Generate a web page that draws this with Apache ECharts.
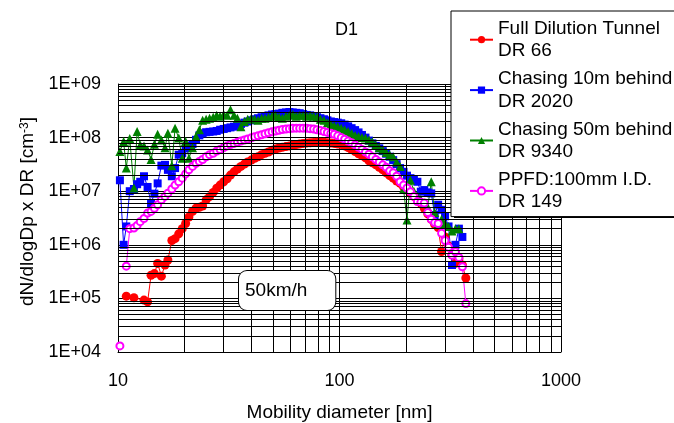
<!DOCTYPE html>
<html><head><meta charset="utf-8">
<script src="https://cdn.jsdelivr.net/npm/echarts@6/dist/echarts.min.js"></script>
<style>html,body{margin:0;padding:0;background:#fff}#c{width:674px;height:423px}</style>
</head><body><div id="c"></div>
<script>
// Mobility diameter channels [nm]
const diameters = [
  10.2, 10.6, 10.9, 11.3, 11.8, 12.2, 12.6, 13.1, 13.6, 14.1,
  14.6, 15.1, 15.7, 16.3, 16.8, 17.5, 18.1, 18.8, 19.5, 20.2,
  20.9, 21.7, 22.5, 23.3, 24.1, 25.0, 25.9, 26.9, 27.9, 28.9,
  30.0, 31.1, 32.2, 33.4, 34.6, 35.9, 37.2, 38.5, 40.0, 41.4,
  42.9, 44.5, 46.1, 47.8, 49.6, 51.4, 53.3, 55.2, 57.3, 59.4,
  61.5, 63.8, 66.1, 68.5, 71.0, 73.7, 76.4, 79.1, 82.0, 85.1,
  88.2, 91.4, 94.7, 98.2, 101.8, 105.5, 109.4, 113.4, 117.6, 121.9,
  126.3, 131.0, 135.8, 140.7, 145.9, 151.2, 156.8, 162.5, 168.5, 174.7,
  181.1, 187.7, 194.6, 201.7, 209.1, 216.7, 224.7, 232.9, 241.4, 250.3,
  259.5, 269.0, 278.8, 289.0, 299.6, 310.6, 322.0, 333.8, 346.0, 358.7,
  371.8
];
const fullDilution = [
  null, null, 1.1e5, null, 1.03e5, null, null, 9.3e4, 8.6e4, 2.7e5,
  2.9e5, 4.5e5, 2.6e5, 4.2e5, 5.2e5, 1.2e6, 1.3e6, 1.6e6, 2.0e6, 2.5e6,
  3.3e6, 4.2e6, 4.8e6, 5.0e6, 5.3e6, 6.9e6, 7.9e6, 9.5e6, 1.14e7, 1.3e7,
  1.5e7, 1.7e7, 2.0e7, 2.3e7, 2.6e7, 2.9e7, 3.2e7, 3.5e7, 3.8e7, 4.1e7,
  4.4e7, 4.8e7, 5.1e7, 5.4e7, 5.8e7, 6.1e7, 6.4e7, 6.6e7, 6.8e7, 7.0e7,
  7.2e7, 7.4e7, 7.6e7, 7.8e7, 7.9e7, 8.0e7, 8.1e7, 8.2e7, 8.2e7, 8.2e7,
  8.0e7, 7.9e7, 7.8e7, 7.6e7, 7.4e7, 7.0e7, 6.5e7, 6.0e7, 5.5e7, 5.0e7,
  4.6e7, 4.2e7, 3.7e7, 3.4e7, 3.1e7, 2.8e7, 2.5e7, 2.2e7, 1.95e7, 1.75e7,
  1.55e7, 1.4e7, 1.2e7, 1.05e7, 9.2e6, 8.0e6, 7.0e6, 6.0e6, 4.8e6, 3.8e6,
  3.0e6, 2.4e6, 2.1e6, 7.5e5, 1.4e6, 9.5e5, 6.5e5, 4.5e5, 5.5e5, 4.2e5,
  2.4e5
];
const chasing10m = [
  1.6e7, 1.0e6, 2.2e6, 1.0e7, 1.1e7, 1.35e7, 1.5e7, 1.9e7, 1.2e7, 6.0e6,
  9.0e6, 1.4e7, 3.0e7, 3.1e7, 2.5e7, 1.9e7, 2.7e7, 4.8e7, 5.1e7, 6.3e7,
  7.0e7, 7.6e7, 9.1e7, 1.1e8, 1.2e8, 1.26e8, 1.28e8, 1.3e8, 1.33e8, 1.4e8,
  1.45e8, 1.5e8, 1.55e8, 1.6e8, 1.7e8, 1.8e8, 1.9e8, 2.0e8, 2.1e8, 2.2e8,
  2.3e8, 2.4e8, 2.5e8, 2.6e8, 2.7e8, 2.75e8, 2.8e8, 2.9e8, 2.95e8, 3.0e8,
  2.95e8, 2.9e8, 2.85e8, 2.75e8, 2.65e8, 2.6e8, 2.5e8, 2.4e8, 2.3e8, 2.2e8,
  2.1e8, 2.0e8, 1.95e8, 1.9e8, 1.85e8, 1.75e8, 1.62e8, 1.5e8, 1.38e8, 1.25e8,
  1.12e8, 1.0e8, 8.8e7, 7.8e7, 7.0e7, 6.3e7, 5.6e7, 5.0e7, 4.4e7, 3.8e7,
  3.2e7, 2.7e7, 2.3e7, 1.95e7, 1.75e7, 1.65e7, 1.5e7, 9.8e6, 1.05e7, 9.5e6,
  9.1e6, 3.6e6, 5.6e6, 4.5e6, 3.4e6, 2.2e6, 4.2e5, 1.0e6, 2.0e6, 1.4e6,
  null
];
const chasing50m = [
  5.5e7, 8.5e7, 2.7e7, 9.6e7, 1.15e7, 1.3e8, 7.3e7, 7.0e7, 5.9e7, 3.9e7,
  7.5e7, 1.15e8, 9.0e7, 6.5e7, 1.2e8, 3.0e7, 1.5e8, 9.8e7, 4.1e7, 8.5e7,
  4.1e7, 6.5e7, 1.05e8, 1.4e8, 2.1e8, 2.2e8, 2.3e8, 2.4e8, 2.6e8, 2.5e8,
  2.7e8, 2.6e8, 3.3e8, 2.6e8, 2.3e8, 1.6e8, 2.0e8, 2.2e8, 2.3e8, 2.2e8,
  2.1e8, 2.3e8, 2.3e8, 2.4e8, 2.5e8, 2.6e8, 2.4e8, 2.3e8, 2.5e8, 2.6e8,
  2.7e8, 2.5e8, 2.6e8, 2.6e8, 2.5e8, 2.6e8, 2.5e8, 2.4e8, 2.2e8, 2.1e8,
  1.9e8, 1.75e8, 1.65e8, 1.6e8, 1.5e8, 1.4e8, 1.3e8, 1.2e8, 1.1e8, 1.05e8,
  1.0e8, 9.8e7, 9.0e7, 8.4e7, 7.3e7, 6.5e7, 5.9e7, 5.3e7, 4.8e7, 4.4e7,
  3.5e7, 2.9e7, 1.1e7, 2.9e6, 1.6e7, 1.0e7, 8.0e6, 7.0e6, 6.0e6, 5.0e6,
  1.5e7, 4.0e6, 2.5e6, 3.0e6, 2.5e6, 2.2e6, 1.8e6, 2.0e6, 2.0e6, null,
  null
];
const ppfd = [
  1.3e4, null, 4.0e5, 2.0e6, 2.05e6, 2.3e6, 2.7e6, 3.1e6, 3.9e6, 4.2e6,
  4.8e6, 5.6e6, 6.9e6, 8.0e6, 9.2e6, 1.1e7, 1.3e7, 1.5e7, 1.75e7, 2.1e7,
  2.5e7, 2.9e7, 3.3e7, 3.6e7, 3.9e7, 4.4e7, 4.8e7, 5.1e7, 5.6e7, 6.0e7,
  6.5e7, 7.0e7, 7.4e7, 7.8e7, 8.2e7, 8.6e7, 9.0e7, 9.4e7, 9.9e7, 1.04e8,
  1.08e8, 1.13e8, 1.18e8, 1.23e8, 1.28e8, 1.33e8, 1.37e8, 1.41e8, 1.44e8, 1.47e8,
  1.49e8, 1.5e8, 1.5e8, 1.5e8, 1.49e8, 1.47e8, 1.44e8, 1.4e8, 1.35e8, 1.3e8,
  1.25e8, 1.2e8, 1.15e8, 1.08e8, 1.0e8, 9.3e7, 8.6e7, 8.0e7, 7.3e7, 6.6e7,
  6.0e7, 5.4e7, 4.9e7, 4.4e7, 3.9e7, 3.5e7, 3.1e7, 2.8e7, 2.4e7, 2.2e7,
  1.9e7, 1.5e7, 1.3e7, 1.15e7, 9.8e6, 8.0e6, 6.4e6, 6.2e6, 6.0e6, 4.0e6,
  3.0e6, 2.6e6, 2.5e6, 1.64e6, 1.2e6, 9.0e5, 6.4e5, 7.4e5, 5.8e5, 3.9e5,
  8.0e4
];
const seriesNames = [
  'Full Dilution Tunnel\nDR 66',
  'Chasing 10m behind\nDR 2020',
  'Chasing 50m behind\nDR 9340',
  'PPFD:100mm I.D.\nDR 149'
];
const xMinorGrid = [20, 30, 40, 50, 60, 70, 80, 90, 200, 300, 400, 500, 600, 700, 800, 900];
const yMinorGrid = [
  2e4, 3e4, 4e4, 5e4, 6e4, 7e4, 8e4, 9e4,
  2e5, 3e5, 4e5, 5e5, 6e5, 7e5, 8e5, 9e5,
  2e6, 3e6, 4e6, 5e6, 6e6, 7e6, 8e6, 9e6,
  2e7, 3e7, 4e7, 5e7, 6e7, 7e7, 8e7, 9e7,
  2e8, 3e8, 4e8, 5e8, 6e8, 7e8, 8e8, 9e8
];
const titleText = 'D1';
const noteText = '50km/h';

const FONT = 'Liberation Sans, Arial, sans-serif';
const pairs = vals => diameters.map((d, i) => [d, vals[i]]);

const chart = echarts.init(document.getElementById('c'), null, {renderer: 'canvas'});
const base = {type: 'line', animation: false, lineStyle: {width: 1}, emphasis: {disabled: true}, z: 2};
chart.setOption({
  animation: false,
  backgroundColor: '#fff',
  textStyle: {fontFamily: FONT, color: '#000'},
  title: {text: titleText, left: 330, top: 16, textStyle: {fontSize: 18, fontWeight: 'normal', color: '#000', fontFamily: FONT}},
  grid: {left: 118, right: 113, top: 84, bottom: 71, containLabel: false, outerBoundsMode: 'none'},
  xAxis: {
    type: 'log', logBase: 10, min: 10, max: 1000,
    axisLine: {show: true, lineStyle: {color: '#000', width: 1}},
    axisTick: {show: false},
    axisLabel: {fontSize: 18, color: '#000', margin: 20, fontFamily: FONT, formatter: v => String(Math.round(v))},
    splitLine: {show: true, lineStyle: {color: '#000', width: 1}},
    name: 'Mobility diameter [nm]', nameLocation: 'middle', nameGap: 51,
    nameTextStyle: {fontSize: 19, color: '#000', fontFamily: FONT}
  },
  yAxis: {
    type: 'log', logBase: 10, min: 1e4, max: 1e9,
    axisLine: {show: true, lineStyle: {color: '#000', width: 1}},
    axisTick: {show: false},
    axisLabel: {fontSize: 18, color: '#000', margin: 17, fontFamily: FONT, padding: [6, 0, 0, 0],
      formatter: v => '1E+' + String(Math.round(Math.log10(v))).padStart(2, '0')},
    splitLine: {show: true, lineStyle: {color: '#000', width: 1}},
    name: '{a|dN/dlogDp x DR [cm}{s|-3}{a|]}', nameLocation: 'middle', nameRotate: 90, nameGap: 78,
    nameTextStyle: {fontSize: 19, color: '#000', fontFamily: FONT, padding: [0, 0, 0, 13],
      rich: {a: {fontSize: 19, fontFamily: FONT, color: '#000'}, s: {fontSize: 12, fontFamily: FONT, color: '#000', verticalAlign: 'top'}}}
  },
  legend: {
    data: seriesNames, orient: 'vertical', left: 451, top: 11, z: 50, zlevel: 0,
    backgroundColor: '#fff', borderColor: '#000', borderWidth: 1, borderRadius: 0,
    padding: [8, 20, 5, 18], itemWidth: 23, itemHeight: 9, itemGap: 9,
    selectedMode: false,
    textStyle: {fontSize: 19, lineHeight: 22.4, color: '#000', fontFamily: FONT, padding: [0, 0, -22.4, 0]}
  },
  graphic: [
    {type: 'rect', z: 45, silent: true, shape: {x: 454, y: 14, width: 260, height: 204}, style: {fill: '#000'}},
    {type: 'text', left: 238, top: 270, z: 100,
      style: {text: noteText, font: '19px ' + FONT, fill: '#000', backgroundColor: '#fff',
        borderColor: '#000', borderWidth: 1, borderRadius: 8, padding: [9, 28, 9, 6], lineHeight: 21}}
  ],
  series: [
    {type: 'line', name: 'minorGrid', data: [], silent: true, animation: false, z: 1,
      markLine: {silent: true, animation: false, symbol: ['none', 'none'], label: {show: false},
        lineStyle: {color: '#000', width: 1, type: 'solid'}, emphasis: {disabled: true},
        data: xMinorGrid.map(v => ({xAxis: v})).concat(yMinorGrid.map(v => ({yAxis: v})))}},
    Object.assign({}, base, {name: seriesNames[0], data: pairs(fullDilution), connectNulls: true,
      symbol: 'circle', symbolSize: 9, itemStyle: {color: '#FF0000'}, lineStyle: {width: 1, color: '#FF0000'}}),
    Object.assign({}, base, {name: seriesNames[1], data: pairs(chasing10m), connectNulls: false,
      symbol: 'rect', symbolSize: 8, itemStyle: {color: '#0000FF'}, lineStyle: {width: 1, color: '#0000FF'}}),
    Object.assign({}, base, {name: seriesNames[2], data: pairs(chasing50m), connectNulls: false,
      symbol: 'triangle', symbolSize: 9, itemStyle: {color: '#008000'}, lineStyle: {width: 1, color: '#008000'}}),
    Object.assign({}, base, {name: seriesNames[3], data: pairs(ppfd), connectNulls: false,
      symbol: 'emptyCircle', symbolSize: 7, itemStyle: {color: '#FF00FF', borderWidth: 1}, lineStyle: {width: 1, color: '#FF00FF'}})
  ]
});
</script>
</body></html>
